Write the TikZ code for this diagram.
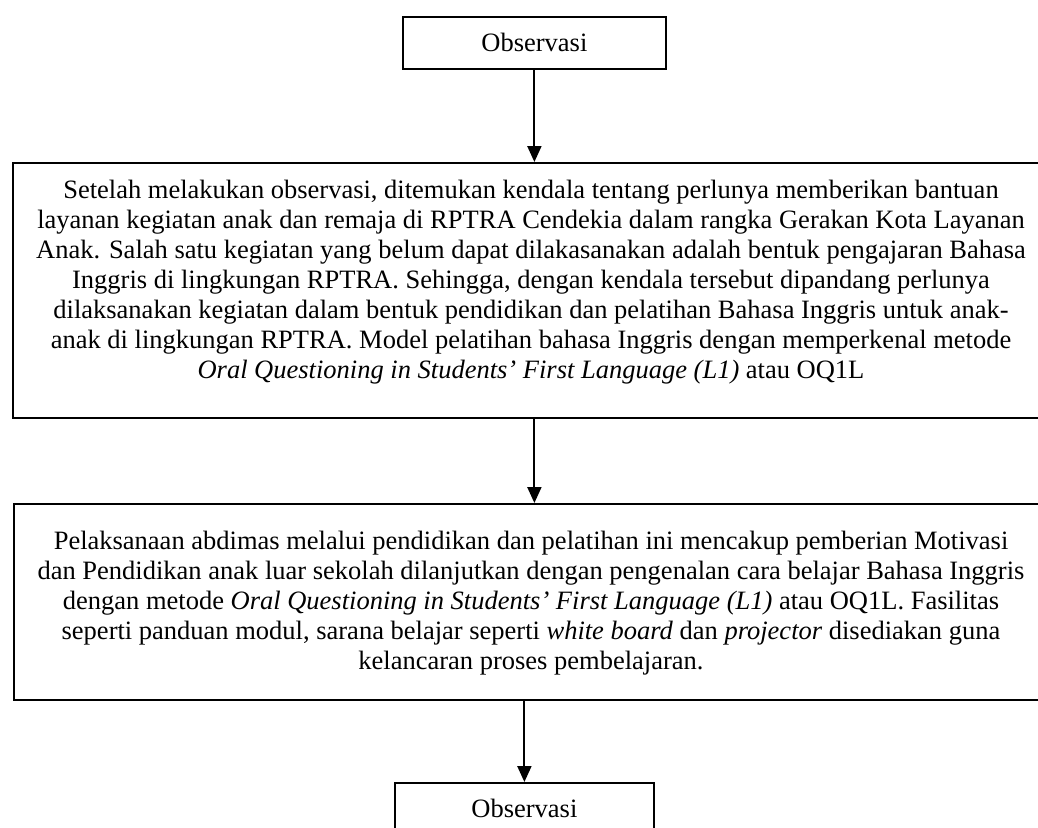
\documentclass[tikz,border=0pt]{standalone}
\usepackage{fontspec}
\setmainfont{Liberation Serif}
\usetikzlibrary{arrows.meta}
\begin{document}
\begin{tikzpicture}[x=0.5pt,y=-0.5pt,
  box/.style={draw, line width=0.9pt, inner sep=0pt, anchor=north west,
    font=\fontsize{13.25}{15}\selectfont},
  txt/.style={align=center, font=\fontsize{13.25}{15}\selectfont, inner sep=0pt},
  arr/.style={line width=1pt, -{Triangle[length=8pt,width=7pt]}}]
\useasboundingbox (0,0) rectangle (1038,827);
\clip (0,0) rectangle (1038,827);
% boxes
\node[box, minimum width=131.5pt, minimum height=26pt] (b1) at (402,16) {Observasi};
\node[box, minimum width=519pt, minimum height=127.5pt] (b2) at (12,162) {};
\node[box, minimum width=518.5pt, minimum height=98pt] (b3) at (13,503) {};
\node[box, minimum width=129.5pt, minimum height=26pt] (b4) at (394,782) {Observasi};
% texts
\node[txt] (t2) at (531,282.5) {Setelah melakukan observasi, ditemukan kendala tentang perlunya memberikan bantuan\\
layanan kegiatan anak dan remaja di RPTRA Cendekia dalam rangka Gerakan Kota Layanan\\
Anak. Salah satu kegiatan yang belum dapat dilakasanakan adalah bentuk pengajaran Bahasa\\
Inggris di lingkungan RPTRA. Sehingga, dengan kendala tersebut dipandang perlunya\\
dilaksanakan kegiatan dalam bentuk pendidikan dan pelatihan Bahasa Inggris untuk anak-\\
anak di lingkungan RPTRA. Model pelatihan bahasa Inggris dengan memperkenal metode\\
\textit{Oral Questioning in Students’ First Language (L1)} atau OQ1L};
\node[txt] (t3) at (531,603) {Pelaksanaan abdimas melalui pendidikan dan pelatihan ini mencakup pemberian Motivasi\\
dan Pendidikan anak luar sekolah dilanjutkan dengan pengenalan cara belajar Bahasa Inggris\\
dengan metode \textit{Oral Questioning in Students’ First Language (L1)} atau OQ1L. Fasilitas\\
seperti panduan modul, sarana belajar seperti \textit{white board} dan \textit{projector} disediakan guna\\
kelancaran proses pembelajaran.};
% arrows
\draw[arr] (b1.south) -- (b1.south |- b2.north);
\draw[arr] (b1.south |- b2.south) -- (b1.south |- b3.north);
\draw[arr] (b4.north |- b3.south) -- (b4.north);
\end{tikzpicture}
\end{document}
